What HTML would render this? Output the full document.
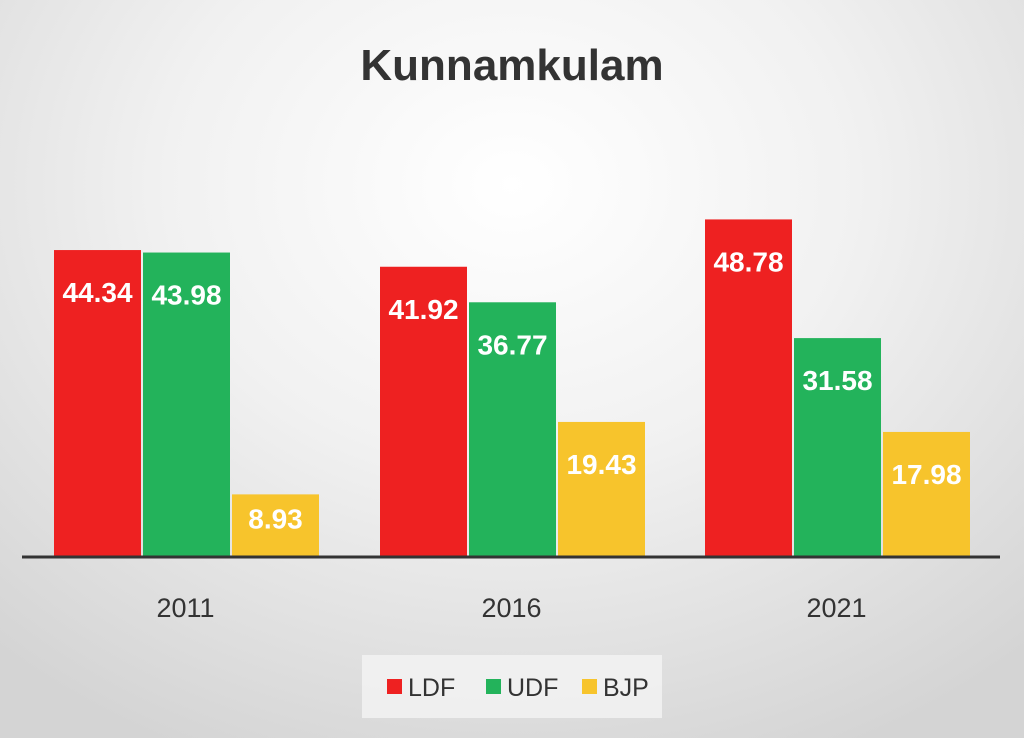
<!DOCTYPE html>
<html><head><meta charset="utf-8">
<style>
html,body{margin:0;padding:0;}
body{width:1024px;height:738px;overflow:hidden;
background:radial-gradient(ellipse 75% 85% at 50% 25%, #ffffff 0%, #f1f1f1 45%, #d4d4d4 100%);
font-family:"Liberation Sans","DejaVu Sans",sans-serif;}
svg{display:block;}
</style></head>
<body>
<svg id="chart" width="1024" height="738">
<text x="512" y="80" text-anchor="middle" font-size="44" font-weight="bold" fill="#333">Kunnamkulam</text>
<g id="bars"></g>
<line x1="22" y1="557" x2="1000" y2="557" stroke="#333" stroke-width="3"/>
<g id="xlabels"></g>
<g>
<rect x="362" y="655" width="300" height="63" fill="#f4f4f4" opacity="0.8"/>
<g id="legend"></g>
</g>
</svg>
<script>
const categories = ["2011","2016","2021"];
const seriesNames = ["LDF","UDF","BJP"];
const ldf = [44.34, 41.92, 48.78];
const udf = [43.98, 36.77, 31.58];
const bjp = [8.93, 19.43, 17.98];

const series = [ldf, udf, bjp];
const colors = ["#ee2121","#23b35b","#f7c42c"];
const NS = "http://www.w3.org/2000/svg";
const baseY = 556, scale = 6.9;
const groupStart = [54, 380, 705], barW = 87, barStep = 89;
function yPos(v){ return baseY - v*scale; }
function xPos(ci, si){ return groupStart[ci] + si*barStep; }

const gb = document.getElementById("bars");
categories.forEach((c, ci) => {
  series.forEach((s, si) => {
    const v = s[ci];
    const r = document.createElementNS(NS, "rect");
    r.setAttribute("x", xPos(ci, si));
    r.setAttribute("y", yPos(v));
    r.setAttribute("width", barW);
    r.setAttribute("height", baseY - yPos(v));
    r.setAttribute("fill", colors[si]);
    
    
    gb.appendChild(r);
    const t = document.createElementNS(NS, "text");
    const h = baseY - yPos(v);
    t.setAttribute("x", xPos(ci, si) + barW/2);
    t.setAttribute("y", yPos(v) + Math.min(52, h*0.55));
    t.setAttribute("text-anchor", "middle");
    t.setAttribute("font-size", "28");
    t.setAttribute("font-weight", "bold");
    t.setAttribute("fill", "#fff");
    t.textContent = v.toFixed(2);
    
    
    gb.appendChild(t);
  });
  const xl = document.createElementNS(NS, "text");
  xl.setAttribute("x", groupStart[ci] + barStep*1 + barW/2 - 1);
  xl.setAttribute("y", 617);
  xl.setAttribute("text-anchor", "middle");
  xl.setAttribute("font-size", "27");
  xl.setAttribute("fill", "#333");
  xl.textContent = c;
  
  
  document.getElementById("xlabels").appendChild(xl);
});

const lg = document.getElementById("legend");
const legX = [387, 486, 582];
seriesNames.forEach((n, i) => {
  const sq = document.createElementNS(NS, "rect");
  sq.setAttribute("x", legX[i]); sq.setAttribute("y", 679);
  sq.setAttribute("width", 15); sq.setAttribute("height", 15);
  sq.setAttribute("fill", colors[i]);
  
  
  lg.appendChild(sq);
  const t = document.createElementNS(NS, "text");
  t.setAttribute("x", legX[i] + 21); t.setAttribute("y", 696);
  t.setAttribute("font-size", "25"); t.setAttribute("fill", "#333");
  t.textContent = n;
  
  
  lg.appendChild(t);
});
</script>
</body></html>
